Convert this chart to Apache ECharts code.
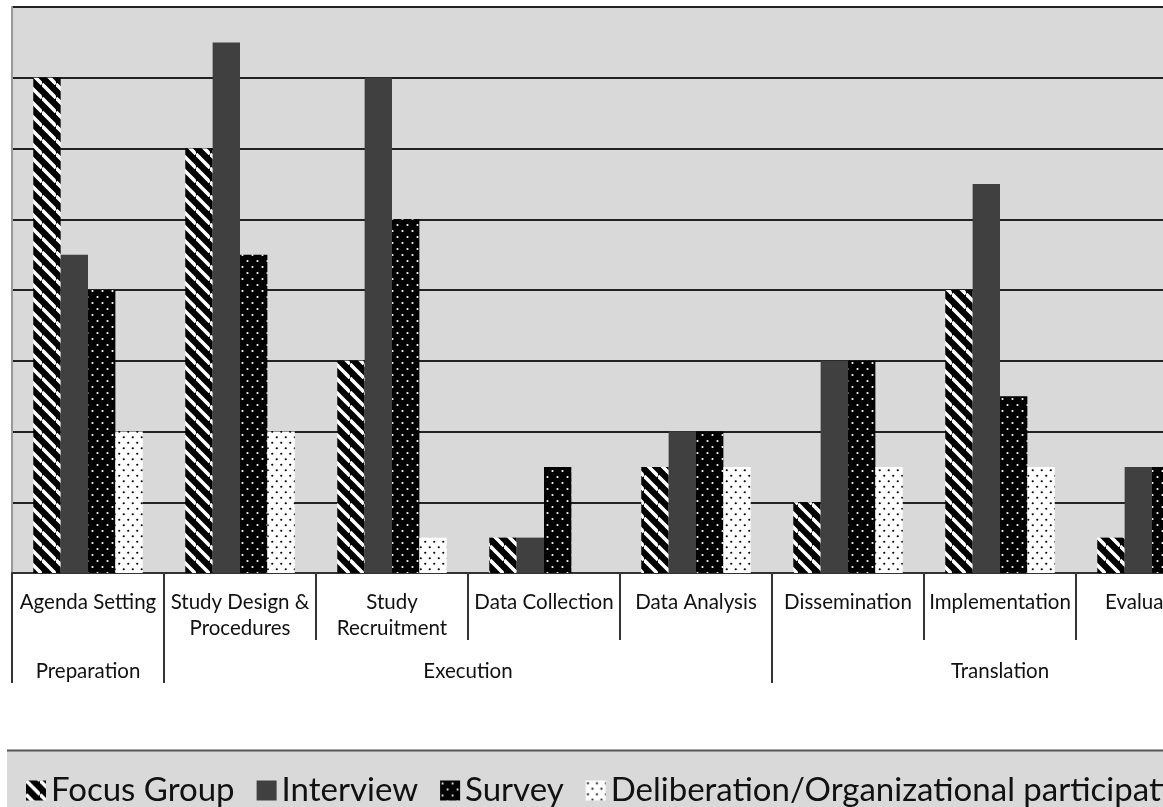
<!DOCTYPE html>
<html>
<head>
<meta charset="utf-8">
<script src="https://cdn.jsdelivr.net/npm/echarts@6/dist/echarts.min.js"></script>
<style>
html,body{margin:0;padding:0;background:#fff;overflow:hidden;width:1163px;height:807px;}
#chart{width:1240px;height:807px;}
</style>
</head>
<body>
<div id="chart"></div>
<script>
// ---- data ----
const categories = ['Agenda Setting', 'Study Design &\nProcedures', 'Study\nRecruitment', 'Data Collection', 'Data Analysis', 'Dissemination', 'Implementation', 'Evaluation'];
const phaseLabels = ['Preparation', 'Execution', 'Translation'];
const phasePositions = [0.5, 3, 6.5];
const phaseBoundaries = [0, 1, 5, 8];
const seriesNames = ['Focus Group', 'Interview', 'Survey', 'Deliberation/Organizational participation'];
const focusGroup = [7, 6, 3, 0.5, 1.5, 1, 4, 0.5];
const interview = [4.5, 7.5, 7, 0.5, 2, 3, 5.5, 1.5];
const survey = [4, 4.5, 5, 1.5, 2, 3, 2.5, 1.5];
const deliberation = [2, 2, 0.5, 0, 1.5, 1.5, 1.5, 1];

// ---- patterns ----
function stripes() {
  const s = 14;
  const c = document.createElement('canvas');
  c.width = s; c.height = s;
  const g = c.getContext('2d');
  g.fillStyle = '#000'; g.fillRect(0, 0, s, s);
  g.strokeStyle = '#fff'; g.lineWidth = 3.6;
  for (let k = -1; k <= 1; k++) {
    g.beginPath(); g.moveTo(0, s * k); g.lineTo(s, s + s * k); g.stroke();
  }
  return c;
}
function dots(bg, fg, w, h, r) {
  const c = document.createElement('canvas');
  c.width = w; c.height = h;
  const g = c.getContext('2d');
  g.fillStyle = bg; g.fillRect(0, 0, w, h);
  g.fillStyle = fg;
  [[w * 0.25, h * 0.25], [w * 0.75, h * 0.75]].forEach(p => {
    g.beginPath(); g.arc(p[0], p[1], r, 0, Math.PI * 2); g.fill();
  });
  return c;
}
const fills = [
  { image: stripes(), repeat: 'repeat' },
  '#404040',
  { image: dots('#000', '#fff', 10, 12, 1.1), repeat: 'repeat' },
  { image: dots('#fff', '#000', 9, 11, 1.1), repeat: 'repeat' }
];
const values = [focusGroup, interview, survey, deliberation];

const FONT = 'Lato';
const chart = echarts.init(document.getElementById('chart'));
chart.setOption({
  animation: false,
  backgroundColor: '#fff',
  graphic: [
    { type: 'rect', z: 0, shape: { x: 7, y: 750, width: 1300, height: 60 }, style: { fill: '#d9d9d9' } },
    { type: 'line', z: 1, shape: { x1: 7, y1: 750.5, x2: 1300, y2: 750.5 }, style: { stroke: '#555', lineWidth: 2 } }
  ],
  grid: { left: 12, right: 12, top: 7, bottom: 234, show: true, backgroundColor: '#d9d9d9', borderWidth: 0 },
  legend: {
    left: 21, top: 769, itemWidth: 20, itemHeight: 20, itemGap: 22, icon: 'rect',
    textStyle: { fontFamily: FONT, fontSize: 33, color: '#111' },
    data: seriesNames
  },
  xAxis: [
    {
      type: 'category', data: categories,
      axisLine: { lineStyle: { color: '#333', width: 2 } },
      axisTick: { show: true, interval: 0, length: 67, lineStyle: { color: '#333', width: 2 } },
      axisLabel: { interval: 0, margin: 16, fontFamily: FONT, fontSize: 20.5, lineHeight: 26, color: '#111' }
    },
    {
      type: 'value', min: 0, max: 8, position: 'bottom', offset: 67,
      axisLine: { show: false }, splitLine: { show: false },
      axisTick: { show: true, customValues: phaseBoundaries, length: 43, lineStyle: { color: '#333', width: 2 } },
      axisLabel: {
        customValues: phasePositions, margin: 21, fontFamily: FONT, fontSize: 20.5, color: '#111',
        formatter: v => phaseLabels[phasePositions.indexOf(v)]
      }
    }
  ],
  yAxis: {
    type: 'value', min: 0, max: 8, interval: 1,
    axisLine: { show: true, lineStyle: { color: '#999', width: 2 } },
    axisTick: { show: false },
    axisLabel: { show: false },
    splitLine: { lineStyle: { color: '#222', width: 2 } }
  },
  series: seriesNames.map((n, i) => ({
    name: n, type: 'bar', xAxisIndex: 0, data: values[i],
    barGap: 0, barCategoryGap: '28%',
    itemStyle: { color: fills[i] }
  }))
});
</script>
</body>
</html>
